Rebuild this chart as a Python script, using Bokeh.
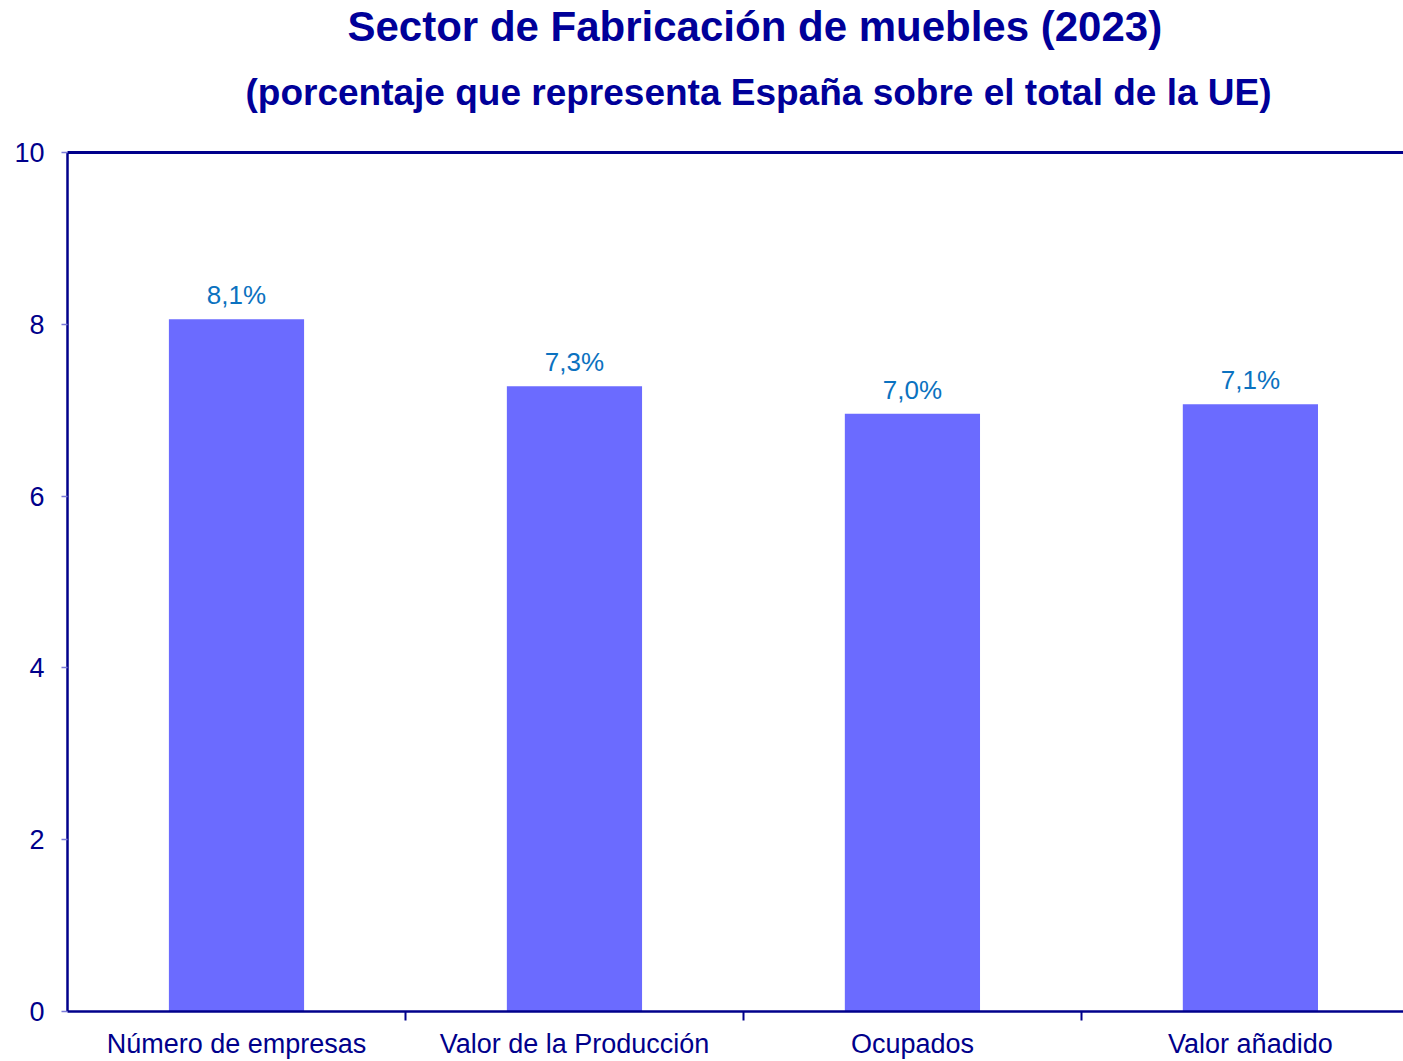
from bokeh.plotting import figure
from bokeh.models import (ColumnDataSource, Range1d, FixedTicker, LinearAxis, Title)
from bokeh.embed import file_html
from bokeh.resources import INLINE
from bokeh.core.properties import value

# ---- data ----
categories = ["Número de empresas", "Valor de la Producción", "Ocupados", "Valor añadido"]
values = [8.06, 7.28, 6.96, 7.07]
value_labels = ["8,1%", "7,3%", "7,0%", "7,1%"]
y_ticks = [0, 2, 4, 6, 8, 10]

title_text = "Sector de Fabricación de muebles (2023)"
subtitle_text = "(porcentaje que representa España sobre el total de la UE)"

NAVY = "#000099"
AXIS = "#00008B"
BAR = "#6B6BFF"
LBL = "#0B72C0"
FONT = "Liberation Sans"

xs = [i + 0.5 for i in range(len(categories))]
src = ColumnDataSource(dict(x=xs, top=values, lab=value_labels))

p = figure(width=1403, height=1061, output_backend="svg", toolbar_location=None,
           x_range=Range1d(0, 3.953), y_range=Range1d(0, 10),
           min_border_left=67, min_border_right=0, min_border_bottom=48, min_border_top=10,
           x_axis_type=None, y_axis_type=None)
p.outline_line_color = None
p.background_fill_color = "white"
p.border_fill_color = "white"

p.vbar(x="x", top="top", width=0.4, source=src, fill_color=BAR, line_color=None)
p.text(x="x", y="top", text="lab", source=src, text_align="center", text_baseline="bottom",
       y_offset=-9, text_color=LBL, text_font=value(FONT), text_font_size="26px")

# y axis
yax = LinearAxis(ticker=FixedTicker(ticks=y_ticks))
yax.axis_line_color = AXIS
yax.axis_line_width = 2.5
yax.major_tick_line_color = "#7B7BD8"
yax.major_tick_line_width = 1.5
yax.major_tick_out = 6
yax.major_tick_in = 0
yax.minor_tick_line_color = None
yax.major_label_standoff = 17
yax.major_label_text_font = FONT
yax.major_label_text_font_size = "27px"
yax.major_label_text_color = AXIS
p.add_layout(yax, "left")

# x axis: labels at centres, ticks between categories (minor ticks)
xax = LinearAxis(ticker=FixedTicker(ticks=xs, minor_ticks=[1, 2, 3]))
xax.major_label_overrides = {x: c for x, c in zip(xs, categories)}
xax.axis_line_color = AXIS
xax.axis_line_width = 2.5
xax.major_tick_line_color = None
xax.major_tick_out = 0
xax.major_tick_in = 0
xax.minor_tick_line_color = AXIS
xax.minor_tick_line_width = 2
xax.minor_tick_out = 9
xax.minor_tick_in = 0
xax.major_label_standoff = 8
xax.major_label_text_font = FONT
xax.major_label_text_font_size = "27px"
xax.major_label_text_color = AXIS
p.add_layout(xax, "below")

# top border line (invisible tick used only as spacer)
tax = LinearAxis(ticker=FixedTicker(ticks=[0]))
tax.major_label_overrides = {0: ""}
tax.axis_line_color = AXIS
tax.axis_line_width = 3
tax.major_tick_line_color = None
tax.minor_tick_line_color = None
tax.major_label_text_font_size = "0px"
tax.major_label_standoff = 0
tax.major_tick_out = 21
tax.major_tick_in = 0
p.add_layout(tax, "above")

# grid
p.ygrid.ticker = FixedTicker(ticks=[2, 4, 6, 8])
p.ygrid.grid_line_color = "#E3E8F0"
p.ygrid.grid_line_dash = "4 3"
p.ygrid.grid_line_width = 1
p.xgrid.grid_line_color = None

# titles (first added = closest to the frame)
sub = Title(text=subtitle_text, align="left", offset=178, text_font=FONT,
            text_font_size="37px", text_font_style="bold", text_color=NAVY, standoff=38)
p.add_layout(sub, "above")
tt = Title(text=title_text, align="left", offset=280, text_font=FONT,
           text_font_size="42px", text_font_style="bold", text_color=NAVY, standoff=1)
p.add_layout(tt, "above")

open("out.html", "w").write(file_html(p, INLINE))
